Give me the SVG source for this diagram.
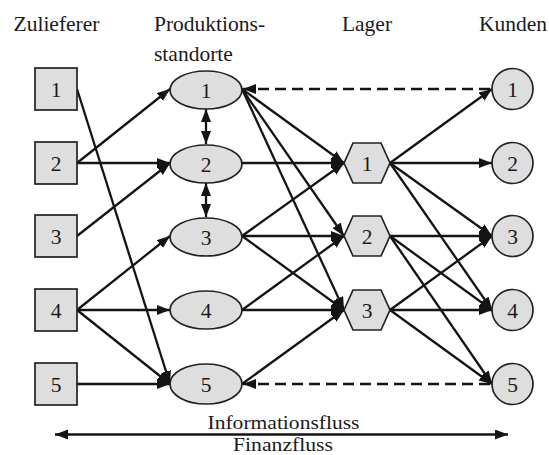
<svg xmlns="http://www.w3.org/2000/svg" width="549" height="455" viewBox="0 0 549 455">
<style>
text{font-family:"Liberation Serif","Times New Roman",serif;font-size:21.5px;fill:#1a1a1a}
.lbl{text-anchor:middle}
.flow{font-size:19.5px}
.node{fill:#dedede;stroke:#222;stroke-width:1.7}
.c{stroke:#141414;stroke-width:2.3;fill:none;marker-end:url(#ah)}
.d{stroke:#141414;stroke-width:2.3;fill:none;stroke-dasharray:11 6;marker-end:url(#ah)}
.b{stroke:#141414;stroke-width:2.3;fill:none;marker-start:url(#ah);marker-end:url(#ah)}
</style>
<defs>
<marker id="ah" markerUnits="userSpaceOnUse" markerWidth="14" markerHeight="11" refX="13" refY="5" orient="auto-start-reverse">
<path d="M0,0 L13,5 L0,10 z" fill="#141414"/>
</marker>
</defs>
<rect width="549" height="455" fill="#fff"/>
<g id="headers">
<text x="56.5" y="31" class="lbl">Zulieferer</text>
<text x="154" y="31">Produktions-</text>
<text x="154" y="61">standorte</text>
<text x="367" y="31" class="lbl">Lager</text>
<text x="513" y="31" class="lbl">Kunden</text>
</g>
<g id="connectors">
<line class="c" x1="77" y1="89" x2="170" y2="384"/>
<line class="c" x1="77" y1="163" x2="170" y2="89"/>
<line class="c" x1="77" y1="163" x2="170" y2="163"/>
<line class="c" x1="77" y1="236" x2="170" y2="163"/>
<line class="c" x1="77" y1="310" x2="170" y2="236"/>
<line class="c" x1="77" y1="310" x2="170" y2="310"/>
<line class="c" x1="77" y1="310" x2="170" y2="384"/>
<line class="c" x1="77" y1="384" x2="170" y2="384"/>
<line class="b" x1="206" y1="109" x2="206" y2="144"/>
<line class="b" x1="206" y1="183" x2="206" y2="217"/>
<line class="c" x1="242" y1="89" x2="344" y2="163"/>
<line class="c" x1="242" y1="89" x2="344" y2="236"/>
<line class="c" x1="242" y1="89" x2="344" y2="310"/>
<line class="c" x1="242" y1="163" x2="344" y2="163"/>
<line class="c" x1="242" y1="236" x2="344" y2="163"/>
<line class="c" x1="242" y1="236" x2="344" y2="236"/>
<line class="c" x1="242" y1="236" x2="344" y2="310"/>
<line class="c" x1="242" y1="310" x2="344" y2="236"/>
<line class="c" x1="242" y1="310" x2="344" y2="310"/>
<line class="c" x1="242" y1="384" x2="344" y2="310"/>
<line class="c" x1="390" y1="163" x2="492" y2="89"/>
<line class="c" x1="390" y1="163" x2="492" y2="163"/>
<line class="c" x1="390" y1="163" x2="492" y2="236"/>
<line class="c" x1="390" y1="163" x2="492" y2="310"/>
<line class="c" x1="390" y1="236" x2="492" y2="236"/>
<line class="c" x1="390" y1="236" x2="492" y2="310"/>
<line class="c" x1="390" y1="236" x2="492" y2="384"/>
<line class="c" x1="390" y1="310" x2="492" y2="236"/>
<line class="c" x1="390" y1="310" x2="492" y2="310"/>
<line class="c" x1="390" y1="310" x2="492" y2="384"/>
<line class="d" x1="490" y1="89" x2="243" y2="89"/>
<line class="d" x1="490" y1="384" x2="243" y2="384"/>
<line class="b" x1="55" y1="434.5" x2="508" y2="434.5"/>
</g>
<g id="z1"><rect class="node" x="35" y="68" width="42" height="42"/><text x="56" y="96.5" class="lbl">1</text></g>
<g id="z2"><rect class="node" x="35" y="142" width="42" height="42"/><text x="56" y="170.5" class="lbl">2</text></g>
<g id="z3"><rect class="node" x="35" y="215" width="42" height="42"/><text x="56" y="243.5" class="lbl">3</text></g>
<g id="z4"><rect class="node" x="35" y="289" width="42" height="42"/><text x="56" y="317.5" class="lbl">4</text></g>
<g id="z5"><rect class="node" x="35" y="363" width="42" height="42"/><text x="56" y="391.5" class="lbl">5</text></g>
<g id="p1"><ellipse class="node" cx="206" cy="90" rx="36" ry="19"/><text x="206" y="97.5" class="lbl">1</text></g>
<g id="p2"><ellipse class="node" cx="206" cy="164" rx="36" ry="19"/><text x="206" y="171.5" class="lbl">2</text></g>
<g id="p3"><ellipse class="node" cx="206" cy="237" rx="36" ry="19"/><text x="206" y="244.5" class="lbl">3</text></g>
<g id="p4"><ellipse class="node" cx="206" cy="310" rx="36" ry="19"/><text x="206" y="317.5" class="lbl">4</text></g>
<g id="p5"><ellipse class="node" cx="206" cy="384" rx="36" ry="20"/><text x="206" y="391.5" class="lbl">5</text></g>
<g id="l1"><polygon class="node" points="344,163 353,143 381,143 390,163 381,183 353,183"/><text x="367" y="170.5" class="lbl">1</text></g>
<g id="l2"><polygon class="node" points="344,236 353,216 381,216 390,236 381,256 353,256"/><text x="367" y="243.5" class="lbl">2</text></g>
<g id="l3"><polygon class="node" points="344,310 353,290 381,290 390,310 381,330 353,330"/><text x="367" y="317.5" class="lbl">3</text></g>
<g id="k1"><circle class="node" cx="512.5" cy="89" r="20.5"/><text x="512.5" y="96.5" class="lbl">1</text></g>
<g id="k2"><circle class="node" cx="512.5" cy="163" r="20.5"/><text x="512.5" y="170.5" class="lbl">2</text></g>
<g id="k3"><circle class="node" cx="512.5" cy="236" r="20.5"/><text x="512.5" y="243.5" class="lbl">3</text></g>
<g id="k4"><circle class="node" cx="512.5" cy="310" r="20.5"/><text x="512.5" y="317.5" class="lbl">4</text></g>
<g id="k5"><circle class="node" cx="512.5" cy="384" r="20.5"/><text x="512.5" y="391.5" class="lbl">5</text></g>
<g id="flow">
<text x="283.5" y="428.5" class="lbl flow" textLength="152" lengthAdjust="spacingAndGlyphs">Informationsfluss</text>
<text x="283" y="450.5" class="lbl flow" textLength="100" lengthAdjust="spacingAndGlyphs">Finanzfluss</text>
</g>
</svg>
